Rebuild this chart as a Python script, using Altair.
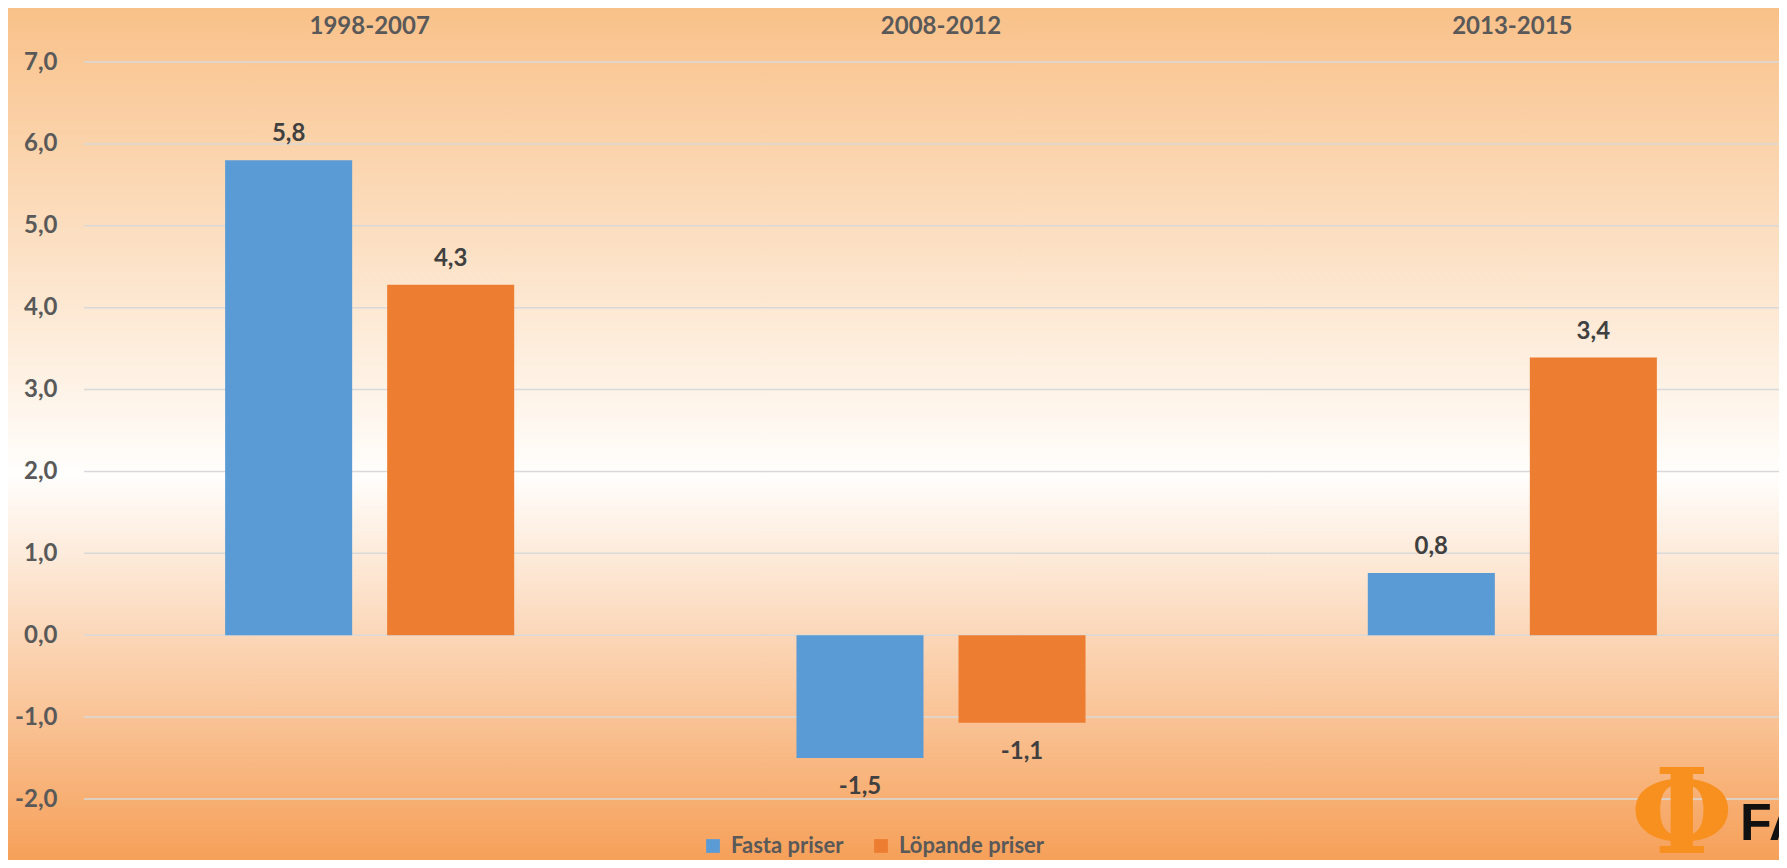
import altair as alt
import pandas as pd

# ---- data ----
periods = ["1998-2007", "2008-2012", "2013-2015"]
series = ["Fasta priser", "Löpande priser"]
fasta = [5.80, -1.50, 0.76]
lopande = [4.28, -1.07, 3.39]
y_ticks = [-2, -1, 0, 1, 2, 3, 4, 5, 6, 7]
colors = ["#5B9BD5", "#ED7D31"]

rows = []
for i, p in enumerate(periods):
    rows.append({"period": p, "series": series[0], "value": fasta[i]})
    rows.append({"period": p, "series": series[1], "value": lopande[i]})
df = pd.DataFrame(rows)
df["label"] = df["value"].map(lambda v: f"{v:.1f}".replace(".", ","))

grid_df = pd.DataFrame({"value": y_ticks})
one = pd.DataFrame({"a": [0]})

# ---- layout ----
W, H = 1695, 737
PL, PT, PB = 76, 54, 61
XR = 1714
FONT = "Lato"
FS = 24

yscale = alt.Scale(domain=[-2, 7], nice=False, zero=False)
yaxis = alt.Axis(
    values=y_ticks, title=None, grid=False, domain=False, ticks=False,
    labelPadding=27,
    labelExpr="replace(replace(format(datum.value, '.1f'), '.', ','), '\u2212', '-')",
    labelFont=FONT, labelFontSize=FS, labelFontWeight="bold",
    labelColor="#595959", zindex=2,
)
yenc = alt.Y("value:Q", scale=yscale, axis=yaxis)

xenc = alt.X(
    "period:N",
    sort=periods,
    scale=alt.Scale(range=[0, XR], paddingInner=0, paddingOuter=0),
    axis=alt.Axis(
        orient="top", title=None, domain=False, ticks=False, grid=False,
        labelAngle=0, labelPadding=29, labelBaseline="alphabetic",
        labelFont=FONT, labelFontSize=FS, labelFontWeight="bold",
        labelColor="#595959", zindex=2,
    ),
)
xoff = alt.XOffset(
    "series:N", sort=series,
    scale=alt.Scale(paddingInner=0.216, paddingOuter=0.871),
)

bg = alt.Chart(one).mark_rect(
    fill=alt.LinearGradient(
        gradient="linear",
        stops=[
            alt.GradientStop(offset=0, color="#F9C189"),
            alt.GradientStop(offset=0.548, color="#FFFEFC"),
            alt.GradientStop(offset=1, color="#F6A059"),
        ],
        x1=0, x2=0, y1=0, y2=1,
    ),
    strokeWidth=0,
).encode(
    x=alt.value(-PL), x2=alt.value(W), y=alt.value(-PT), y2=alt.value(H + PB)
)

grid = alt.Chart(grid_df).mark_rule(color="#D9D9D9", strokeWidth=1.5).encode(
    y=yenc,
    x=alt.value(0),
    x2=alt.value(XR),
)

bars = alt.Chart(df).mark_bar().encode(
    x=xenc,
    xOffset=xoff,
    y=yenc,
    y2=alt.datum(0),
    color=alt.Color(
        "series:N",
        scale=alt.Scale(domain=series, range=colors),
        legend=alt.Legend(
            orient="none", legendX=618, legendY=773, direction="horizontal",
            title=None, symbolType="square", symbolSize=190, symbolStrokeWidth=0,
            labelFont=FONT, labelFontSize=22, labelFontWeight="bold",
            labelColor="#595959", columnPadding=26, labelOffset=7,
            zindex=2,
        ),
    ),
)

text_pos = alt.Chart(df).transform_filter("datum.value >= 0").mark_text(
    dy=-26, baseline="middle", font=FONT, fontSize=FS, fontWeight="bold",
    color="#404040",
).encode(x=xenc, xOffset=xoff, y=yenc, text="label:N")

text_neg = alt.Chart(df).transform_filter("datum.value < 0").mark_text(
    dy=29, baseline="middle", font=FONT, fontSize=FS, fontWeight="bold",
    color="#404040",
).encode(x=xenc, xOffset=xoff, y=yenc, text="label:N")

logo_phi = alt.Chart(one).mark_text(
    text="Φ", font="DejaVu Serif", fontSize=118, fontWeight="bold",
    color="#F7901E", baseline="middle", align="center",
).encode(x=alt.value(1682 - 84), y=alt.value(756))

logo_fa = alt.Chart(one).mark_text(
    text="FA", font="Liberation Sans", fontSize=52, fontWeight="bold",
    color="#111111", baseline="alphabetic", align="left",
).encode(x=alt.value(1656), y=alt.value(778))

chart = alt.layer(bg, grid, bars, text_pos, text_neg, logo_phi, logo_fa).properties(
    width=W, height=H,
    autosize=alt.AutoSizeParams(type="none"),
    padding={"left": PL, "top": PT, "right": 0, "bottom": PB},
    background="#FFFFFF",
).configure_view(stroke="transparent")

chart.save("out.html", embed_options={"renderer": "svg", "actions": False})
